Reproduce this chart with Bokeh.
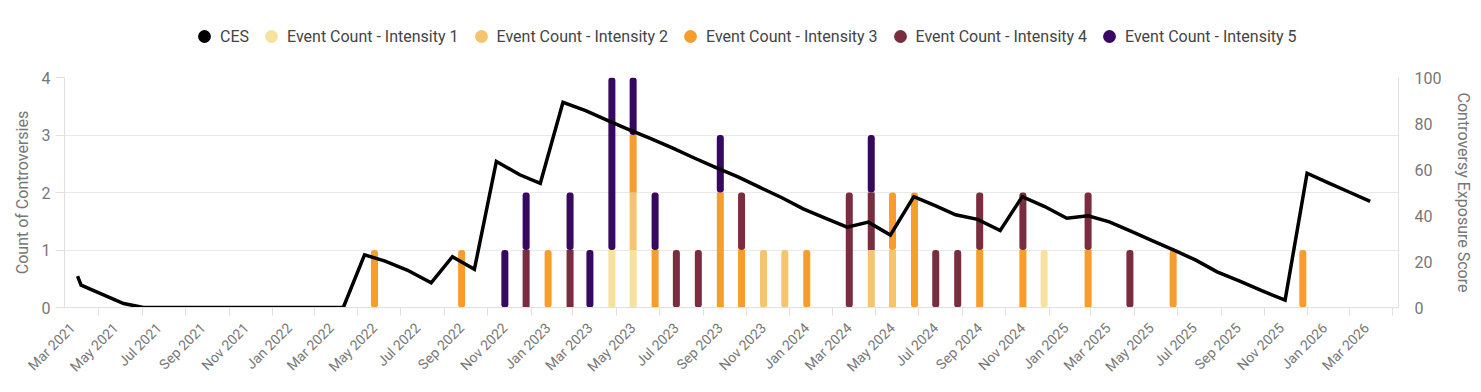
import pandas as pd
from bokeh.plotting import figure
from bokeh.layouts import column
from bokeh.models import (Range1d, LinearAxis, FixedTicker, Legend, LegendItem,
                          ColumnDataSource)
from bokeh.embed import file_html
from bokeh.resources import INLINE

# ---------------- data ----------------
months = ["2022-05", "2022-09", "2022-11", "2022-12", "2023-01", "2023-02", "2023-03",
          "2023-04", "2023-05", "2023-06", "2023-07", "2023-08", "2023-09", "2023-10",
          "2023-11", "2023-12", "2024-01", "2024-03", "2024-04", "2024-05", "2024-06",
          "2024-07", "2024-08", "2024-09", "2024-11", "2024-12", "2025-02", "2025-04",
          "2025-06", "2025-12"]
intensity1 = [0, 0, 0, 0, 0, 0, 0, 1, 1, 0, 0, 0, 0, 0, 0, 0, 0, 0, 0, 0, 0, 0, 0, 0, 0, 1, 0, 0, 0, 0]
intensity2 = [0, 0, 0, 0, 0, 0, 0, 0, 1, 0, 0, 0, 0, 0, 1, 1, 0, 0, 1, 1, 0, 0, 0, 0, 0, 0, 0, 0, 0, 0]
intensity3 = [1, 1, 0, 0, 1, 0, 0, 0, 1, 1, 0, 0, 2, 1, 0, 0, 1, 0, 0, 1, 2, 0, 0, 1, 1, 0, 1, 0, 1, 1]
intensity4 = [0, 0, 0, 1, 0, 1, 0, 0, 0, 0, 1, 1, 0, 1, 0, 0, 0, 2, 1, 0, 0, 1, 1, 1, 1, 0, 1, 1, 0, 0]
intensity5 = [0, 0, 1, 1, 0, 1, 1, 3, 1, 1, 0, 0, 1, 0, 0, 0, 0, 0, 1, 0, 0, 0, 0, 0, 0, 0, 0, 0, 0, 0]

ces_dates = ["2021-04-01", "2021-04-06", "2021-06-05", "2021-07-03", "2022-04-11",
             "2022-05-11", "2022-06-09", "2022-07-10", "2022-08-13", "2022-09-12",
             "2022-10-13", "2022-11-13", "2022-12-16", "2023-01-14", "2023-02-15",
             "2023-03-19", "2023-04-18", "2023-05-19", "2023-06-19", "2023-07-20",
             "2023-08-20", "2023-09-19", "2023-10-20", "2023-11-20", "2023-12-21",
             "2024-01-20", "2024-02-20", "2024-03-22", "2024-04-21", "2024-05-22",
             "2024-06-24", "2024-07-25", "2024-08-22", "2024-09-22", "2024-10-24",
             "2024-11-24", "2024-12-25", "2025-01-26", "2025-02-25", "2025-03-27",
             "2025-04-27", "2025-05-28", "2025-06-27", "2025-07-27", "2025-08-26",
             "2025-09-27", "2025-10-28", "2025-11-30", "2025-12-31", "2026-01-30",
             "2026-03-01", "2026-03-30"]
ces_values = [13.6, 9.7, 1.7, 0, 0,
              22.9, 20.2, 16.3, 10.7, 22.1,
              16.6, 63.5, 57.7, 54.0, 89.2,
              85.6, 81.5, 77.3, 73.4, 69.3,
              64.9, 60.8, 56.8, 52.2, 47.7,
              42.9, 38.9, 34.9, 37.1, 31.5,
              48.2, 44.2, 40.3, 38.3, 33.5,
              48.2, 44.0, 38.8, 39.9, 37.2,
              33.1, 28.9, 24.8, 20.6, 15.5,
              11.5, 7.3, 3.2, 58.4, 54.2,
              50.1, 46.1]

tick_months = pd.date_range("2021-03-01", "2026-03-01", freq="2MS")
tick_labels = [d.strftime("%b %Y") for d in tick_months]

series_names = ["Event Count - Intensity 1", "Event Count - Intensity 2",
                "Event Count - Intensity 3", "Event Count - Intensity 4",
                "Event Count - Intensity 5"]
series_colors = ["#F7E19D", "#F6C46E", "#F79D2C", "#7B2D40", "#36085F"]

# ---------------- helpers ----------------
ORIGIN = pd.Timestamp("2021-05-01")


def day(ts):
    return (pd.Timestamp(ts) - ORIGIN).days


BAR_DAY = 24  # bars sit near the end of their month
bar_x = [day(m + "-01") + BAR_DAY for m in months]
series = [intensity1, intensity2, intensity3, intensity4, intensity5]

FONT = "Roboto"
GRAY = "#777777"

# ---------------- legend strip ----------------
LEG_H = 60
lg = figure(width=1481, height=LEG_H, output_backend="svg", toolbar_location=None,
            x_range=Range1d(0, 1), y_range=Range1d(0, 1),
            x_axis_location=None, y_axis_location=None, min_border=0)
lg.outline_line_color = None
lg.grid.visible = False

legend_items = []
for name, col in [("CES", "black")] + list(zip(series_names, series_colors)):
    r = lg.scatter(x=[float("nan")], y=[float("nan")], marker="circle", size=13,
                   fill_color=col, line_color=None)
    legend_items.append(LegendItem(label=name, renderers=[r], index=0))

legend = Legend(items=legend_items, orientation="horizontal", location=(124, 8),
                glyph_width=32, glyph_height=32, label_standoff=0, spacing=6,
                padding=0, margin=0, border_line_color=None,
                background_fill_alpha=0,
                label_text_font=FONT, label_text_font_size="16px",
                label_text_color="#444444")
lg.add_layout(legend, "center")

# ---------------- main chart ----------------
p = figure(width=1481, height=392 - LEG_H, output_backend="svg", toolbar_location=None,
           x_range=Range1d(-48.4, 1834.0), y_range=Range1d(0, 4),
           min_border_left=64, min_border_right=83, min_border_top=77 - LEG_H,
           min_border_bottom=85)
p.outline_line_color = None
p.background_fill_color = "white"
p.border_fill_color = "white"
p.extra_y_ranges = {"ces": Range1d(0, 100)}

# grid
p.xgrid.grid_line_color = None
p.ygrid.grid_line_color = "#e9e9e9"
p.ygrid.ticker = FixedTicker(ticks=[0, 1, 2, 3, 4])

# x axis
xax = p.xaxis[0]
label_pos = [day(d) + BAR_DAY for d in tick_months]
minor_pos = [day(d) for d in pd.date_range("2021-05-01", "2026-05-01", freq="2MS")]
xax.ticker = FixedTicker(ticks=label_pos, minor_ticks=minor_pos)
xax.major_label_overrides = {int(k): v for k, v in zip(label_pos, tick_labels)}
xax.major_label_orientation = 0.785398
xax.major_tick_line_color = None
xax.major_tick_out = 0
xax.major_tick_in = 0
xax.minor_tick_line_color = "#e0e0e0"
xax.minor_tick_out = 8
xax.minor_tick_in = 0
xax.axis_line_color = "#e0e0e0"
xax.major_label_text_font = FONT
xax.major_label_text_font_size = "14px"
xax.major_label_text_color = GRAY
xax.major_label_standoff = 10

# left axis
yax = p.yaxis[0]
yax.ticker = FixedTicker(ticks=[0, 1, 2, 3, 4])
yax.axis_label = "Count of Controversies"
yax.axis_label_text_font = FONT
yax.axis_label_text_font_size = "16px"
yax.axis_label_text_font_style = "normal"
yax.axis_label_text_color = GRAY
yax.axis_label_standoff = 7
yax.major_label_text_font = FONT
yax.major_label_text_font_size = "16px"
yax.major_label_text_color = GRAY
yax.major_label_standoff = 5
yax.axis_line_color = "#e0e0e0"
yax.major_tick_line_color = "#e0e0e0"
yax.major_tick_out = 9
yax.major_tick_in = 0
yax.minor_tick_line_color = None

# right axis
rax = LinearAxis(y_range_name="ces", ticker=FixedTicker(ticks=[0, 20, 40, 60, 80, 100]))
rax.axis_label = "Controversy Exposure Score"
rax.axis_label_text_font = FONT
rax.axis_label_text_font_size = "16px"
rax.axis_label_text_font_style = "normal"
rax.axis_label_text_color = GRAY
rax.axis_label_standoff = 10
rax.major_label_text_font = FONT
rax.major_label_text_font_size = "16px"
rax.major_label_text_color = GRAY
rax.major_label_standoff = 16
rax.axis_line_color = "#e0e0e0"
rax.major_tick_line_color = None
rax.major_tick_out = 0
rax.minor_tick_line_color = None
p.add_layout(rax, "right")

# stacked bars
BAR_W = 9.9
bottoms = [0] * len(months)
for k, (vals, col) in enumerate(zip(series, series_colors)):
    above = [sum(s[i] for s in series[k + 1:]) for i in range(len(months))]
    flat = dict(x=[], b=[], t=[])
    top = dict(x=[], b=[], t=[])
    for i, v in enumerate(vals):
        if v <= 0:
            continue
        tgt = top if above[i] == 0 else flat
        tgt["x"].append(bar_x[i])
        tgt["b"].append(bottoms[i])
        tgt["t"].append(bottoms[i] + v)
    if flat["x"]:
        p.vbar(x="x", bottom="b", top="t", width=BAR_W, source=ColumnDataSource(flat),
               fill_color=col, line_color=None)
    if top["x"]:
        p.vbar(x="x", bottom="b", top="t", width=BAR_W, source=ColumnDataSource(top),
               fill_color=col, line_color=None, border_radius=3)
    bottoms = [b + v for b, v in zip(bottoms, vals)]

# CES line
ces_src = ColumnDataSource(dict(x=[day(d) for d in ces_dates], y=ces_values))
p.line(x="x", y="y", source=ces_src, y_range_name="ces", line_color="black",
       line_width=3.5, line_join="miter")

open("out.html", "w").write(file_html(column(lg, p), INLINE))
